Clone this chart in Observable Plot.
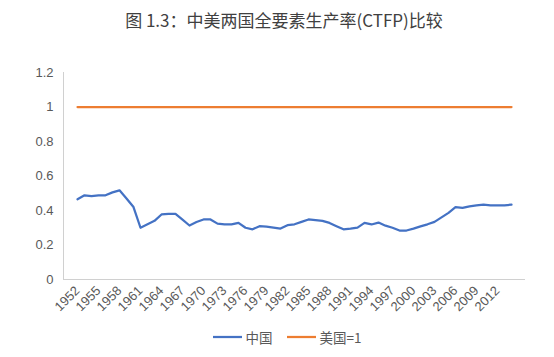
<!DOCTYPE html>
<html>
<head>
<meta charset="utf-8">
<script src="https://cdn.jsdelivr.net/npm/d3@7"></script>
<script src="https://cdn.jsdelivr.net/npm/@observablehq/plot@0.6"></script>
<style>
  html, body { margin: 0; padding: 0; background: #fff; }
  body { width: 554px; height: 357px; overflow: hidden; font-family: "Liberation Sans", "Noto Sans CJK SC", sans-serif; }
  #title { height: 40px; line-height: 40px; text-align: center; font-family: "Noto Sans CJK SC", sans-serif; font-size: 17px; color: #404040; padding-left: 14px; }
  #chart svg { width: 554px !important; max-width: none !important; display: block; }
  #legend { display: flex; justify-content: center; align-items: center; gap: 14px; font-size: 13.5px; color: #595959; height: 37px; margin-top: -2px; padding-left: 20px; font-family: "Noto Sans CJK SC", sans-serif; }
  #legend span { display: inline-flex; align-items: center; gap: 4px; }
</style>
</head>
<body>
<div id="title">图 1.3：中美两国全要素生产率(CTFP)比较</div>
<div id="chart"></div>
<div id="legend"></div>
<script>
const years = d3.range(1952, 2015);
const china = [
  0.465, 0.488, 0.484, 0.488, 0.488, 0.505, 0.517, 0.470, 0.420, 0.300,
  0.320, 0.340, 0.377, 0.380, 0.380, 0.347, 0.313, 0.333, 0.348, 0.348,
  0.324, 0.320, 0.319, 0.328, 0.300, 0.291, 0.309, 0.307, 0.301, 0.295,
  0.315, 0.320, 0.334, 0.348, 0.344, 0.340, 0.328, 0.309, 0.291, 0.295,
  0.301, 0.328, 0.319, 0.330, 0.312, 0.300, 0.284, 0.284, 0.295, 0.308,
  0.320, 0.334, 0.360, 0.386, 0.419, 0.415, 0.424, 0.430, 0.434, 0.430,
  0.429, 0.430, 0.434
];
const usa = years.map(() => 1);
const seriesNames = ["中国", "美国=1"];
const seriesColors = ["#4472C4", "#ED7D31"];
const xTicks = years.filter((y, i) => i % 3 === 0);
const yTicks = [0, 0.2, 0.4, 0.6, 0.8, 1, 1.2];

const rows = [];
years.forEach((y, i) => {
  rows.push({year: y, value: china[i], series: seriesNames[0]});
  rows.push({year: y, value: usa[i], series: seriesNames[1]});
});

const chart = Plot.plot({
  width: 554,
  height: 280,
  marginLeft: 63,
  marginRight: 30,
  marginTop: 32,
  marginBottom: 41,
  style: {fontFamily: "Liberation Sans, sans-serif", fontSize: "13px", color: "#595959", background: "#fff"},
  x: {type: "point", domain: years, padding: 0.5},
  y: {domain: [0, 1.2]},
  color: {domain: seriesNames, range: seriesColors},
  marks: [
    Plot.frame({anchor: "left", stroke: "#d0d0d0"}),
    Plot.frame({anchor: "bottom", stroke: "#d0d0d0"}),
    Plot.axisY({ticks: yTicks, tickSize: 0, tickPadding: 10, tickFormat: d => String(d), label: null, fill: "#595959", fontSize: 13}),
    Plot.axisX({ticks: xTicks, tickSize: 0, tickRotate: -45, tickPadding: 9, tickFormat: d => String(d), label: null, fill: "#595959", fontSize: 13}),
    Plot.line(rows, {x: "year", y: "value", z: "series", stroke: "series", strokeWidth: 2.25, strokeLinejoin: "round", strokeLinecap: "round"})
  ]
});
document.getElementById("chart").appendChild(chart);

const legend = document.getElementById("legend");
seriesNames.forEach((n, i) => {
  const s = document.createElement("span");
  s.innerHTML = `<svg width="29" height="4"><line x1="0" y1="2" x2="29" y2="2" stroke="${seriesColors[i]}" stroke-width="2.25"/></svg>${n}`;
  legend.appendChild(s);
});
</script>
</body>
</html>
